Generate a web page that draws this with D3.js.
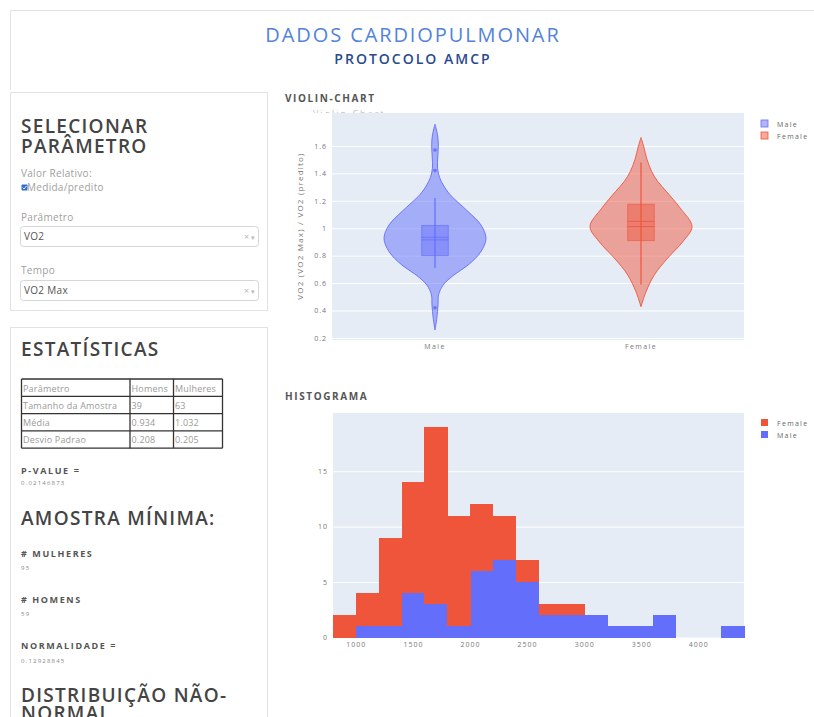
<!DOCTYPE html>
<html>
<head>
<meta charset="utf-8">
<script src="https://cdn.jsdelivr.net/npm/d3@7"></script>
<style>
  body { margin: 0; background: #fff; font-family: "Open Sans", sans-serif; }
  svg text { font-family: "Open Sans", sans-serif; }
</style>
</head>
<body>
<div id="app"></div>
<script>
// ---- dados ----
const sexes = ['Male', 'Female'];
const violinTicks = [0.2, 0.4, 0.6, 0.8, 1, 1.2, 1.4, 1.6];
// [valor, densidade relativa]
const maleDensity = [[1.758, 0], [1.68, 0.05], [1.607, 0.065], [1.52, 0.055], [1.437, 0.05], [1.37, 0.09],
  [1.316, 0.16], [1.243, 0.3], [1.121, 0.65], [1.024, 0.9], [0.927, 1], [0.829, 0.9], [0.732, 0.65],
  [0.659, 0.37], [0.586, 0.16], [0.514, 0.07], [0.441, 0.06], [0.344, 0.035], [0.258, 0]];
const femaleDensity = [[1.661, 0], [1.60, 0.05], [1.50, 0.12], [1.413, 0.21], [1.34, 0.33], [1.267, 0.5],
  [1.146, 0.77], [1.012, 1], [0.902, 0.82], [0.781, 0.52], [0.659, 0.26], [0.538, 0.1], [0.428, 0]];
// [min whisker, q1, mediana, media, q3, max whisker]
const maleBox = [0.71, 0.80, 0.915, 0.934, 1.02, 1.22];
const femaleBox = [0.59, 0.91, 1.012, 1.05, 1.175, 1.48];
const maleOutliers = [0.42, 1.42, 1.57];

const binEdges = [800, 1000, 1200, 1400, 1600, 1800, 2000, 2200, 2400, 2600, 2800, 3000, 3200, 3400, 3600, 3800, 4000, 4200, 4400];
const maleCounts = [0, 1, 1, 4, 3, 1, 6, 7, 5, 2, 2, 2, 1, 1, 2, 0, 0, 1];
const femaleCounts = [2, 3, 8, 10, 16, 10, 6, 4, 2, 1, 1, 0, 0, 0, 0, 0, 0, 0];
const histTicksX = [1000, 1500, 2000, 2500, 3000, 3500, 4000];
const histTicksY = [0, 5, 10, 15];

const tableRows = [
  ['Parâmetro', 'Homens', 'Mulheres'],
  ['Tamanho da Amostra', '39', '63'],
  ['Média', '0.934', '1.032'],
  ['Desvio Padrao', '0.208', '0.205']
];

const COLORS = { Male: '#636efa', Female: '#EF553B' };

const W = 814, H = 717;
const svg = d3.select('#app').append('svg').attr('width', W).attr('height', H);

// ---- cabeçalho e cartões ----
const border = '#e2e2e2';
svg.append('path').attr('d', `M10.5,90 V10.5 H814`).attr('fill', 'none').attr('stroke', border);
svg.append('rect').attr('x', 10.5).attr('y', 92.5).attr('width', 257).attr('height', 218)
  .attr('fill', 'none').attr('stroke', border);
svg.append('rect').attr('x', 10.5).attr('y', 327.5).attr('width', 257).attr('height', 400)
  .attr('fill', 'none').attr('stroke', border);

svg.append('text').attr('x', 413).attr('y', 42).attr('text-anchor', 'middle')
  .attr('font-size', 20).attr('letter-spacing', 1.9).attr('fill', '#5383d8')
  .text('DADOS CARDIOPULMONAR');
svg.append('text').attr('x', 413).attr('y', 64).attr('text-anchor', 'middle')
  .attr('font-size', 14).attr('font-weight', 600).attr('letter-spacing', 2).attr('fill', '#2b4a8c')
  .text('PROTOCOLO AMCP');

// ---- painel esquerdo ----
const side = svg.append('g');
function heading(txt, y) {
  side.append('text').attr('x', 21).attr('y', y).attr('font-size', 19).attr('font-weight', 600)
    .attr('letter-spacing', 1.3).attr('fill', '#444').text(txt);
}
function label(txt, y, opts = {}) {
  side.append('text').attr('x', opts.x || 21).attr('y', y).attr('font-size', opts.size || 10)
    .attr('font-weight', opts.weight || 400).attr('letter-spacing', opts.ls || 0.3)
    .attr('fill', opts.fill || '#a0a0a0').text(txt);
}
heading('SELECIONAR', 133);
heading('PARÂMETRO', 153);
label('Valor Relativo:', 177);
side.append('rect').attr('x', 21.5).attr('y', 184.5).attr('width', 6).attr('height', 6).attr('rx', 1)
  .attr('fill', '#2f6fd0');
side.append('path').attr('d', 'M22.8,187.6 L24.2,189 L26.4,186').attr('fill', 'none')
  .attr('stroke', '#fff').attr('stroke-width', 0.9);
label('Medida/predito', 191, { x: 27 });
label('Parâmetro', 221);
label('Tempo', 274);
[['VO2', 226], ['VO2 Max', 280]].forEach(([txt, y]) => {
  side.append('rect').attr('x', 20.5).attr('y', y + 0.5).attr('width', 238).attr('height', 20).attr('rx', 3)
    .attr('fill', '#fff').attr('stroke', '#d6d6d6');
  label(txt, y + 14, { x: 24, fill: '#555' });
  label('×', y + 14, { x: 244, fill: '#b8b8b8', size: 9 });
  label('▾', y + 14, { x: 251, fill: '#b8b8b8', size: 7 });
});

heading('ESTATÍSTICAS', 356);

// tabela
const colX = [21.5, 130, 173.5, 222.5];
const rowY = [379, 396.3, 413.6, 430.9, 448.2];
const tbl = side.append('g');
tableRows.forEach((row, i) => {
  row.forEach((cell, j) => {
    tbl.append('text').attr('x', colX[j] + 1.5).attr('y', rowY[i] + 12.5).attr('font-size', 9)
      .attr('letter-spacing', 0.2).attr('fill', '#9a9a9a').text(cell);
  });
});
rowY.forEach(y => tbl.append('line').attr('x1', colX[0]).attr('x2', colX[3]).attr('y1', y).attr('y2', y)
  .attr('stroke', '#333').attr('stroke-width', 1.3));
colX.forEach(x => tbl.append('line').attr('x1', x).attr('x2', x).attr('y1', rowY[0]).attr('y2', rowY[4])
  .attr('stroke', '#333').attr('stroke-width', 1.3));

label('P-VALUE =', 474, { size: 9, weight: 700, ls: 1.6, fill: '#555' });
label('0.02146873', 485, { size: 6, ls: 1.2, fill: '#888' });
heading('AMOSTRA MÍNIMA:', 525);
label('# MULHERES', 557, { size: 9, weight: 700, ls: 1.6, fill: '#555' });
label('95', 570, { size: 6, ls: 1.2, fill: '#888' });
label('# HOMENS', 603, { size: 9, weight: 700, ls: 1.6, fill: '#555' });
label('59', 616, { size: 6, ls: 1.2, fill: '#888' });
label('NORMALIDADE =', 649, { size: 9, weight: 700, ls: 1.6, fill: '#555' });
label('0.12928845', 663, { size: 6, ls: 1.2, fill: '#888' });
heading('DISTRIBUIÇÃO NÃO-', 702);
heading('NORMAL', 720);

// ---- violin ----
svg.append('text').attr('x', 285).attr('y', 102).attr('font-size', 10).attr('font-weight', 700)
  .attr('letter-spacing', 1.6).attr('fill', '#555').text('VIOLIN-CHART');
svg.append('clipPath').attr('id', 'titleClip').append('rect')
  .attr('x', 300).attr('y', 109).attr('width', 120).attr('height', 4);
svg.append('text').attr('x', 313).attr('y', 117).attr('font-size', 9).attr('letter-spacing', 2)
  .attr('fill', '#c4c4c4').attr('clip-path', 'url(#titleClip)').text('Violin Chart');

const vx = d3.scaleBand().domain(sexes).range([332, 744]);
const vy = d3.scaleLinear().domain([0.185, 1.84]).range([340, 113]);
const vw = d3.scaleLinear().domain([0, 1]).range([0, 51]);
const boxHalf = 13.3;

const vg = svg.append('g');
vg.append('rect').attr('x', 332).attr('y', 113).attr('width', 412).attr('height', 227).attr('fill', '#e5ecf6');
vg.append('g').attr('transform', 'translate(332,0)')
  .call(d3.axisLeft(vy).tickValues(violinTicks).tickSize(-412).tickPadding(5).tickFormat(d => String(d)))
  .call(g => g.select('.domain').remove())
  .call(g => g.selectAll('line').attr('stroke', '#fff'))
  .call(g => g.selectAll('text').attr('font-size', 7).attr('letter-spacing', 1).attr('fill', '#777'));
vg.append('g').attr('transform', 'translate(0,340)')
  .call(d3.axisBottom(vx).tickSize(0).tickPadding(4))
  .call(g => g.select('.domain').remove())
  .call(g => g.selectAll('text').attr('font-size', 7).attr('letter-spacing', 1.4).attr('fill', '#777'));
vg.append('text').attr('transform', 'translate(303,226) rotate(-90)').attr('text-anchor', 'middle')
  .attr('font-size', 8).attr('letter-spacing', 1.2).attr('fill', '#777')
  .text('VO2 (VO2 Max) / VO2 (predito)');

const groups = [
  { key: 'Male', dens: maleDensity, box: maleBox, out: maleOutliers },
  { key: 'Female', dens: femaleDensity, box: femaleBox, out: [] }
];
groups.forEach(gp => {
  const cx = vx(gp.key) + vx.bandwidth() / 2;
  const c = COLORS[gp.key];
  const area = d3.area()
    .y(d => vy(d[0]))
    .x0(d => cx - vw(d[1]))
    .x1(d => cx + vw(d[1]))
    .curve(d3.curveCatmullRom);
  vg.append('path').attr('d', area(gp.dens)).attr('fill', c).attr('fill-opacity', 0.5)
    .attr('stroke', c).attr('stroke-width', 1).attr('stroke-opacity', 0.9);
  const [lo, q1, med, mean, q3, hi] = gp.box;
  vg.append('line').attr('x1', cx).attr('x2', cx).attr('y1', vy(lo)).attr('y2', vy(hi))
    .attr('stroke', c).attr('stroke-width', 1.5).attr('stroke-opacity', 0.8);
  vg.append('rect').attr('x', cx - boxHalf).attr('y', vy(q3)).attr('width', boxHalf * 2)
    .attr('height', vy(q1) - vy(q3)).attr('fill', c).attr('fill-opacity', 0.45)
    .attr('stroke', c).attr('stroke-opacity', 0.6);
  [med, mean].forEach(v => vg.append('line').attr('x1', cx - boxHalf).attr('x2', cx + boxHalf)
    .attr('y1', vy(v)).attr('y2', vy(v)).attr('stroke', c).attr('stroke-opacity', 0.8));
  gp.out.forEach(v => vg.append('circle').attr('cx', cx).attr('cy', vy(v)).attr('r', 1.8)
    .attr('fill', c).attr('fill-opacity', 0.9));
});

function legend(items, y0) {
  items.forEach((k, i) => {
    const y = y0 + i * 12;
    svg.append('rect').attr('x', 761).attr('y', y).attr('width', 7).attr('height', 7)
      .attr('fill', COLORS[k.key]).attr('fill-opacity', k.op)
      .attr('stroke', COLORS[k.key]).attr('stroke-width', k.op < 1 ? 0.8 : 0);
    svg.append('text').attr('x', 777).attr('y', y + 6.5).attr('font-size', 7).attr('letter-spacing', 1.3)
      .attr('fill', '#666').text(k.key);
  });
}
legend([{ key: 'Male', op: 0.5 }, { key: 'Female', op: 0.5 }], 120);

// ---- histograma ----
svg.append('text').attr('x', 285).attr('y', 400).attr('font-size', 10).attr('font-weight', 700)
  .attr('letter-spacing', 1.6).attr('fill', '#555').text('HISTOGRAMA');

const hx = d3.scaleLinear().domain([800, 4400]).range([333, 744]);
const hy = d3.scaleLinear().domain([0, 20.25]).range([637.5, 413]);
const hg = svg.append('g');
hg.append('rect').attr('x', 333).attr('y', 413).attr('width', 411).attr('height', 225).attr('fill', '#e5ecf6');
hg.append('g').attr('transform', 'translate(333,0)')
  .call(d3.axisLeft(hy).tickValues(histTicksY).tickSize(-411).tickPadding(5))
  .call(g => g.select('.domain').remove())
  .call(g => g.selectAll('line').attr('stroke', '#fff'))
  .call(g => g.selectAll('text').attr('font-size', 7).attr('letter-spacing', 1).attr('fill', '#777'));

const bins = maleCounts.map((m, i) => ({ x0: binEdges[i], x1: binEdges[i + 1], male: m, female: femaleCounts[i] }));
hg.selectAll('.bar-male').data(bins.filter(d => d.male > 0)).enter().append('rect')
  .attr('class', 'bar-male')
  .attr('x', d => hx(d.x0)).attr('width', d => hx(d.x1) - hx(d.x0) + 0.5)
  .attr('y', d => hy(d.male)).attr('height', d => hy(0) - hy(d.male))
  .attr('fill', COLORS.Male).attr('shape-rendering', 'crispEdges');
hg.selectAll('.bar-female').data(bins.filter(d => d.female > 0)).enter().append('rect')
  .attr('class', 'bar-female')
  .attr('x', d => hx(d.x0)).attr('width', d => hx(d.x1) - hx(d.x0) + 0.5)
  .attr('y', d => hy(d.male + d.female)).attr('height', d => hy(d.male) - hy(d.male + d.female))
  .attr('fill', COLORS.Female).attr('shape-rendering', 'crispEdges');

hg.append('g').attr('transform', 'translate(0,638)')
  .call(d3.axisBottom(hx).tickValues(histTicksX).tickSize(0).tickPadding(4).tickFormat(d3.format('d')))
  .call(g => g.select('.domain').remove())
  .call(g => g.selectAll('text').attr('font-size', 7).attr('letter-spacing', 1).attr('fill', '#777'));

legend([{ key: 'Female', op: 1 }, { key: 'Male', op: 1 }], 419);
</script>
</body>
</html>
